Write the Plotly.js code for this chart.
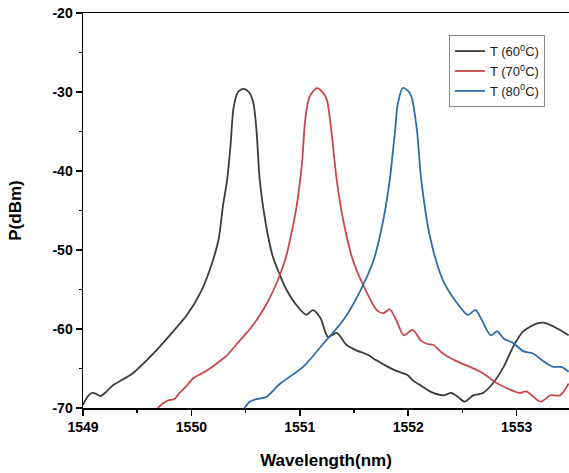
<!DOCTYPE html>
<html>
<head>
<meta charset="utf-8">
<script src="https://cdn.plot.ly/plotly-3.0.1.min.js"></script>
<style>html,body{margin:0;padding:0;overflow:hidden;background:#fff}</style>
</head>
<body>
<div id="chart" style="width:569px;height:473px"></div>
<script>
const seriesNames = ["T (60<sup>0</sup>C)", "T (70<sup>0</sup>C)", "T (80<sup>0</sup>C)"];

const wl60 = [1549.00,1549.04,1549.08,1549.12,1549.16,1549.21,1549.28,1549.46,1549.65,1549.80,1549.96,1550.08,1550.17,1550.25,1550.29,1550.33,1550.36,1550.39,1550.43,1550.48,1550.53,1550.57,1550.60,1550.63,1550.68,1550.75,1550.82,1550.88,1550.97,1551.06,1551.12,1551.19,1551.26,1551.34,1551.43,1551.52,1551.58,1551.63,1551.71,1551.80,1551.89,1551.99,1552.05,1552.11,1552.20,1552.32,1552.40,1552.46,1552.52,1552.60,1552.69,1552.78,1552.88,1552.97,1553.06,1553.19,1553.25,1553.37,1553.48];
const p60 = [-69.6,-68.6,-68.1,-68.2,-68.5,-68.0,-67.1,-65.6,-63.1,-60.8,-58.2,-55.5,-52.5,-48.7,-44.5,-41.1,-36.9,-31.9,-30.0,-29.6,-30.0,-31.3,-34.8,-41.1,-46.2,-50.8,-53.3,-55.1,-57.0,-58.2,-57.6,-58.6,-61.0,-60.5,-62.0,-62.7,-63.0,-63.3,-64.0,-64.7,-65.3,-65.8,-66.6,-67.1,-67.9,-68.4,-68.1,-68.6,-69.2,-68.4,-68.1,-66.9,-64.8,-62.2,-60.3,-59.3,-59.2,-59.9,-60.8];

const wl70 = [1549.69,1549.74,1549.79,1549.84,1549.89,1549.95,1550.02,1550.10,1550.17,1550.25,1550.33,1550.45,1550.54,1550.60,1550.69,1550.76,1550.82,1550.87,1550.91,1550.97,1551.02,1551.05,1551.09,1551.16,1551.22,1551.25,1551.29,1551.34,1551.40,1551.49,1551.59,1551.71,1551.77,1551.83,1551.89,1551.96,1552.04,1552.12,1552.18,1552.23,1552.32,1552.45,1552.57,1552.69,1552.80,1552.91,1553.03,1553.09,1553.22,1553.31,1553.40,1553.48];
const p70 = [-70.0,-69.4,-69.0,-68.9,-68.1,-67.3,-66.2,-65.6,-65.0,-64.2,-63.3,-61.4,-60.0,-58.9,-56.9,-55.0,-53.0,-51.0,-48.7,-44.5,-39.0,-33.5,-30.6,-29.5,-30.2,-31.0,-34.8,-41.1,-46.2,-51.3,-54.6,-57.6,-58.0,-57.5,-58.9,-60.8,-60.1,-61.5,-61.9,-62.0,-63.1,-64.1,-64.8,-65.6,-66.7,-67.5,-68.1,-67.9,-69.2,-68.4,-68.4,-66.9];

const wl80 = [1550.49,1550.53,1550.57,1550.63,1550.69,1550.82,1551.03,1551.22,1551.40,1551.56,1551.68,1551.77,1551.83,1551.86,1551.88,1551.90,1551.95,1552.00,1552.03,1552.08,1552.12,1552.20,1552.32,1552.45,1552.55,1552.62,1552.68,1552.76,1552.82,1552.88,1552.97,1553.06,1553.15,1553.25,1553.34,1553.41,1553.48];
const p80 = [-70.0,-69.3,-69.0,-68.8,-68.6,-66.9,-64.8,-61.8,-58.9,-55.1,-51.3,-46.2,-41.1,-37.3,-34.8,-31.8,-29.5,-29.9,-30.6,-34.8,-41.1,-48.3,-53.8,-56.7,-58.2,-57.6,-58.9,-60.8,-60.3,-61.2,-61.8,-62.8,-63.1,-64.1,-64.8,-64.8,-65.4];

const xTickVals = [1549, 1550, 1551, 1552, 1553];
const yTickVals = [-70, -60, -50, -40, -30, -20];

const colors = ["#3c3c3c", "#c8484a", "#2f6ca8"];
const xs = [wl60, wl70, wl80];
const ys = [p60, p70, p80];

const traces = xs.map((x, i) => ({
  x: x, y: ys[i], name: seriesNames[i], type: "scatter", mode: "lines",
  line: {color: colors[i], width: 1.8, shape: "spline", smoothing: 0.8}
}));

const fontFam = "Arial, 'Liberation Sans', sans-serif";
const layout = {
  width: 569, height: 473,
  margin: {l: 83, r: 0, t: 13, b: 65},
  paper_bgcolor: "#fff", plot_bgcolor: "#fff",
  font: {family: fontFam, color: "#000"},
  showlegend: true,
  legend: {
    x: 0.753, y: 0.944, xanchor: "left", yanchor: "top",
    bgcolor: "#fff", bordercolor: "#888", borderwidth: 1,
    font: {family: fontFam, size: 13, color: "#222"},
    tracegroupgap: 0, itemwidth: 30
  },
  xaxis: {
    range: [1549, 1553.483], tickvals: xTickVals, ticktext: xTickVals.map(String),
    ticks: "outside", ticklen: 6, tickwidth: 1.5, tickcolor: "#000",
    minor: {dtick: 0.5, tick0: 1549, ticks: "outside", ticklen: 3, tickwidth: 1.5, tickcolor: "#000"},
    showline: true, linecolor: "#000", linewidth: 1.5, mirror: true,
    showgrid: false, zeroline: false,
    tickfont: {family: fontFam, size: 14, color: "#000", weight: "bold"},
    title: {text: "<b>Wavelength(nm)</b>", font: {family: fontFam, size: 17, color: "#000"}, standoff: 20}
  },
  yaxis: {
    range: [-70, -20], tickvals: yTickVals, ticktext: yTickVals.map(String),
    ticks: "outside", ticklen: 6, tickwidth: 1.5, tickcolor: "#000",
    minor: {dtick: 5, tick0: -70, ticks: "outside", ticklen: 3, tickwidth: 1.5, tickcolor: "#000"},
    showline: true, linecolor: "#000", linewidth: 1.5, mirror: false,
    showgrid: false, zeroline: false,
    tickfont: {family: fontFam, size: 14, color: "#000", weight: "bold"},
    title: {text: "<b>P(dBm)</b>", font: {family: fontFam, size: 17, color: "#000"}, standoff: 26}
  }
};

Plotly.newPlot("chart", traces, layout, {staticPlot: true, displayModeBar: false});
</script>
</body>
</html>
